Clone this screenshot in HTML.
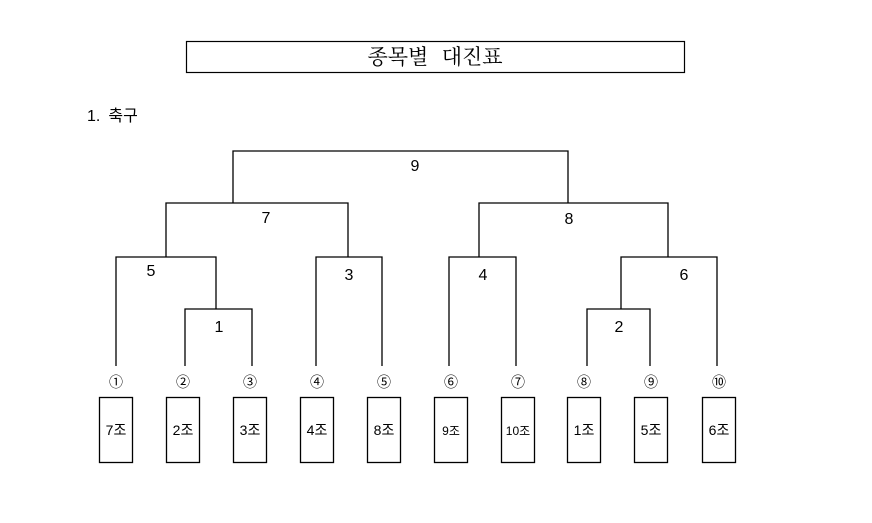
<!DOCTYPE html>
<html><head><meta charset="utf-8"><style>
body{margin:0;background:#fff;width:872px;height:518px;overflow:hidden}
svg text{font-family:"Liberation Sans","Noto Sans CJK KR",sans-serif;fill:#000}
</style></head><body>
<svg width="872" height="518" viewBox="0 0 872 518" xmlns="http://www.w3.org/2000/svg">
<rect x="186.5" y="41.5" width="498" height="31" fill="none" stroke="#000" stroke-width="1.2"/>
<text x="435" y="64" font-size="21" text-anchor="middle" style="font-family:'Noto Serif CJK KR','Noto Serif CJK SC','Noto Sans CJK KR',serif">종목별 <tspan dx="8">대진표</tspan></text>
<text x="87" y="121" font-size="16">1.<tspan dx="8">축구</tspan></text>
<g fill="none" stroke="#000" stroke-width="1.3">
<path d="M233,203V151H568V203"/>
<path d="M166,257V203H348V257"/>
<path d="M479,257V203H668V257"/>
<path d="M116,366V257H216V309"/>
<path d="M185,366V309H252V366"/>
<path d="M316,366V257H382V366"/>
<path d="M449,366V257H516V366"/>
<path d="M621,309V257H717V366"/>
<path d="M587,366V309H650V366"/>
<rect x="99.5" y="397.5" width="33" height="65"/>
<rect x="166.5" y="397.5" width="33" height="65"/>
<rect x="233.5" y="397.5" width="33" height="65"/>
<rect x="300.5" y="397.5" width="33" height="65"/>
<rect x="367.5" y="397.5" width="33" height="65"/>
<rect x="434.5" y="397.5" width="33" height="65"/>
<rect x="501.5" y="397.5" width="33" height="65"/>
<rect x="567.5" y="397.5" width="33" height="65"/>
<rect x="634.5" y="397.5" width="33" height="65"/>
<rect x="702.5" y="397.5" width="33" height="65"/>
</g>
<g font-size="16" text-anchor="middle">
<text x="415" y="171">9</text>
<text x="266" y="223">7</text>
<text x="569" y="224">8</text>
<text x="151" y="276">5</text>
<text x="349" y="280">3</text>
<text x="483" y="280">4</text>
<text x="684" y="280">6</text>
<text x="219" y="332">1</text>
<text x="619" y="332">2</text>
</g>
<g font-size="14" text-anchor="middle">
<text x="116" y="387">①</text><text x="183" y="387">②</text><text x="250" y="387">③</text><text x="317" y="387">④</text><text x="384" y="387">⑤</text><text x="451" y="387">⑥</text><text x="518" y="387">⑦</text><text x="584" y="387">⑧</text><text x="651" y="387">⑨</text><text x="719" y="387">⑩</text>
</g>
<g font-size="14" text-anchor="middle">
<text x="116" y="435">7조</text><text x="183" y="435">2조</text><text x="250" y="435">3조</text><text x="317" y="435">4조</text><text x="384" y="435">8조</text><text x="451" y="435" font-size="12">9조</text><text x="518" y="435" font-size="12">10조</text><text x="584" y="435">1조</text><text x="651" y="435">5조</text><text x="719" y="435">6조</text>
</g>
</svg>
</body></html>
